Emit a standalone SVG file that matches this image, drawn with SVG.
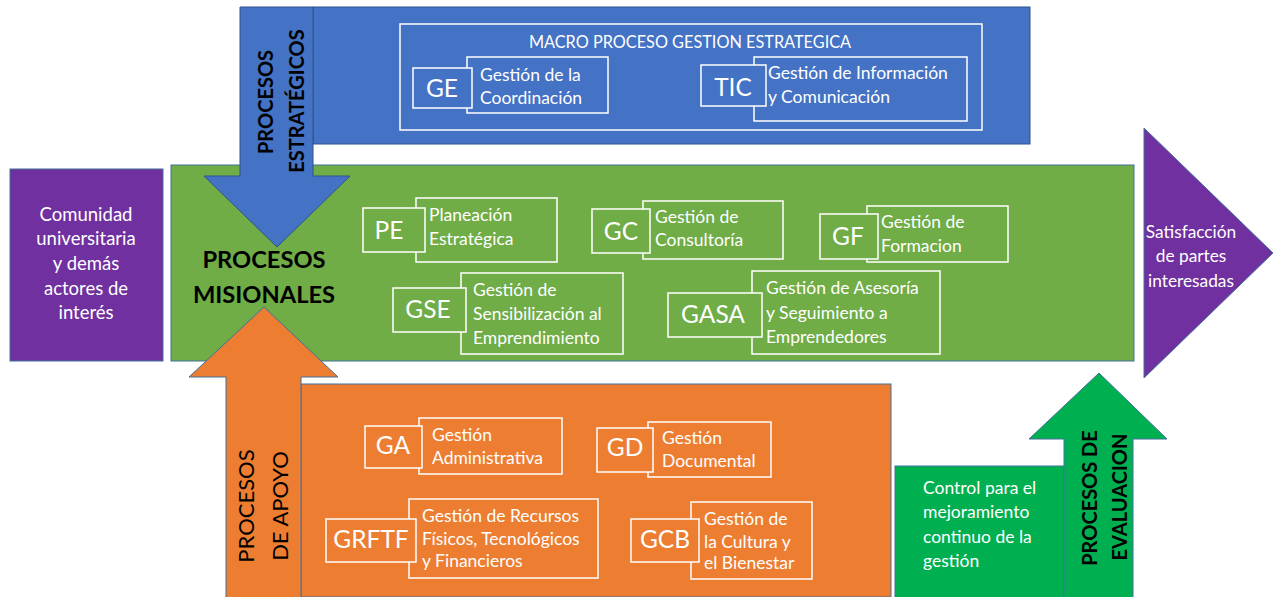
<svg xmlns="http://www.w3.org/2000/svg" width="1277" height="597" viewBox="0 0 1277 597">
<style>
.shape{stroke:#41719C;stroke-width:1}
.blue{fill:#4472C4;stroke:#2F528F;stroke-width:1}
.green{fill:#70AD47}
.orange{fill:#ED7D31}
.purple{fill:#7030A0}
.bgreen{fill:#00B050}
.wb{fill:none;stroke:#FFFFFF;stroke-width:1.5}
.t{font-family:Lato,"Liberation Sans",sans-serif;fill:#FFFFFF;font-size:17.5px}
.ab{font-family:Lato,"Liberation Sans",sans-serif;fill:#FFFFFF;font-size:24.5px;text-anchor:middle}
.big{font-family:Lato,"Liberation Sans",sans-serif;fill:#000000;font-size:23.7px;font-weight:bold;text-anchor:middle}
.vert{font-family:Lato,"Liberation Sans",sans-serif;fill:#000000;font-size:20px;text-anchor:middle}
.c{text-anchor:middle}
</style>
<rect width="1277" height="597" fill="#FFFFFF"/>

<g id="procesos-misionales">
<rect class="shape green" x="171" y="165" width="963" height="196"/>
</g>

<g id="procesos-estrategicos">
<rect class="blue" x="313" y="7" width="717" height="137"/>
<polygon class="blue" points="240,7 313,7 313,176 350,176 277,247 204,176 240,176"/>
<text class="vert" font-weight="bold" transform="translate(273,102) rotate(-90)">PROCESOS</text>
<text class="vert" font-weight="bold" transform="translate(304,101) rotate(-90)">ESTRATÉGICOS</text>
</g>

<g id="macro-gestion-estrategica">
<rect class="wb" x="400" y="24" width="582" height="106"/>
<text class="t c" x="690" y="48" style="font-size:16.3px">MACRO PROCESO GESTION ESTRATEGICA</text>
</g>

<g id="node-ge">
<rect class="wb" x="467" y="57" width="141" height="56"/>
<rect class="blue" style="stroke:#FFFFFF;stroke-width:1.5" x="413" y="68" width="59" height="40"/>
<text class="ab" x="442" y="97">GE</text>
<text class="t" x="480" y="81">Gestión de la</text>
<text class="t" x="480" y="104">Coordinación</text>
</g>

<g id="node-tic">
<rect class="wb" x="754" y="57" width="213" height="64"/>
<rect class="blue" style="stroke:#FFFFFF;stroke-width:1.5" x="701" y="65" width="65" height="41"/>
<text class="ab" x="733" y="96">TIC</text>
<text class="t" x="768" y="79">Gestión de Información</text>
<text class="t" x="768" y="103">y Comunicación</text>
</g>

<g id="comunidad">
<rect class="shape purple" x="10" y="169" width="153" height="192"/>
<text class="t c" x="86" y="221" style="font-size:18.5px">Comunidad</text>
<text class="t c" x="86" y="245" style="font-size:18.5px">universitaria</text>
<text class="t c" x="86" y="270" style="font-size:18.5px">y demás</text>
<text class="t c" x="86" y="295" style="font-size:18.5px">actores de</text>
<text class="t c" x="86" y="319" style="font-size:18.5px">interés</text>
</g>

<g id="procesos-apoyo">
<rect class="shape orange" x="301" y="384" width="590" height="213"/>
<polygon class="shape orange" points="226,598 226,377 189,377 264,307 338,377 301,377 301,598"/>
<text class="vert" style="font-size:22px" transform="translate(254,506) rotate(-90)">PROCESOS</text>
<text class="vert" style="font-size:22px" transform="translate(288,506) rotate(-90)">DE APOYO</text>
</g>

<g id="label-misionales">
<text class="big" x="264" y="268">PROCESOS</text>
<text class="big" x="264" y="303">MISIONALES</text>
</g>

<g id="node-pe">
<rect class="wb" x="416" y="198" width="141" height="64"/>
<rect class="green" style="stroke:#FFFFFF;stroke-width:1.5" x="363" y="208" width="62" height="44"/>
<text class="ab" x="389" y="239">PE</text>
<text class="t" x="429" y="221">Planeación</text>
<text class="t" x="429" y="245">Estratégica</text>
</g>

<g id="node-gc">
<rect class="wb" x="643" y="201" width="140" height="58"/>
<rect class="green" style="stroke:#FFFFFF;stroke-width:1.5" x="592" y="209" width="58" height="44"/>
<text class="ab" x="621" y="240">GC</text>
<text class="t" x="655" y="223">Gestión de</text>
<text class="t" x="655" y="246">Consultoría</text>
</g>

<g id="node-gf">
<rect class="wb" x="867" y="206" width="141" height="56"/>
<rect class="green" style="stroke:#FFFFFF;stroke-width:1.5" x="820" y="214" width="58" height="45"/>
<text class="ab" x="848" y="245">GF</text>
<text class="t" x="881" y="228">Gestión de</text>
<text class="t" x="881" y="252">Formacion</text>
</g>

<g id="node-gse">
<rect class="wb" x="461" y="273" width="162" height="81"/>
<rect class="green" style="stroke:#FFFFFF;stroke-width:1.5" x="393" y="288" width="73" height="44"/>
<text class="ab" x="428" y="318">GSE</text>
<text class="t" x="473" y="296">Gestión de</text>
<text class="t" x="473" y="320">Sensibilización al</text>
<text class="t" x="473" y="344">Emprendimiento</text>
</g>

<g id="node-gasa">
<rect class="wb" x="752" y="271" width="188" height="83"/>
<rect class="green" style="stroke:#FFFFFF;stroke-width:1.5" x="668" y="293" width="94" height="44"/>
<text class="ab" x="713" y="323">GASA</text>
<text class="t" x="766" y="294">Gestión de Asesoría</text>
<text class="t" x="766" y="319">y Seguimiento a</text>
<text class="t" x="766" y="343">Emprendedores</text>
</g>

<g id="node-ga">
<rect class="wb" x="419" y="418" width="143" height="56"/>
<rect class="orange" style="stroke:#FFFFFF;stroke-width:1.5" x="365" y="426" width="57" height="42"/>
<text class="ab" x="393" y="454">GA</text>
<text class="t" x="432" y="441">Gestión</text>
<text class="t" x="432" y="464">Administrativa</text>
</g>

<g id="node-gd">
<rect class="wb" x="648" y="422" width="123" height="55"/>
<rect class="orange" style="stroke:#FFFFFF;stroke-width:1.5" x="597" y="428" width="56" height="44"/>
<text class="ab" x="625" y="456">GD</text>
<text class="t" x="662" y="444">Gestión</text>
<text class="t" x="662" y="467">Documental</text>
</g>

<g id="node-grftf">
<rect class="wb" x="409" y="499" width="189" height="79"/>
<rect class="orange" style="stroke:#FFFFFF;stroke-width:1.5" x="326" y="519" width="90" height="43"/>
<text class="ab" x="371" y="548">GRFTF</text>
<text class="t" x="422" y="522">Gestión de Recursos</text>
<text class="t" x="422" y="545">Físicos, Tecnológicos</text>
<text class="t" x="422" y="567">y Financieros</text>
</g>

<g id="node-gcb">
<rect class="wb" x="691" y="502" width="121" height="77"/>
<rect class="orange" style="stroke:#FFFFFF;stroke-width:1.5" x="631" y="519" width="68" height="43"/>
<text class="ab" x="665" y="548">GCB</text>
<text class="t" x="704" y="525">Gestión de</text>
<text class="t" x="704" y="548">la Cultura y</text>
<text class="t" x="704" y="569">el Bienestar</text>
</g>

<g id="procesos-evaluacion">
<rect class="shape bgreen" x="895" y="466" width="169" height="132"/>
<polygon class="shape bgreen" points="1064,598 1064,439 1029,439 1099,373 1167,439 1133,439 1133,598"/>
<text class="vert" font-weight="bold" transform="translate(1097,498) rotate(-90)">PROCESOS DE</text>
<text class="vert" font-weight="bold" transform="translate(1127,497) rotate(-90)">EVALUACION</text>
<text class="t" x="923" y="494">Control para el</text>
<text class="t" x="923" y="518">mejoramiento</text>
<text class="t" x="923" y="543">continuo de la</text>
<text class="t" x="923" y="567">gestión</text>
</g>

<g id="satisfaccion">
<polygon class="shape purple" points="1144,128 1273,253 1144,378"/>
<text class="t c" x="1191" y="238" style="font-size:17.3px">Satisfacción</text>
<text class="t c" x="1191" y="262" style="font-size:17.3px">de partes</text>
<text class="t c" x="1191" y="287" style="font-size:17.3px">interesadas</text>
</g>

<g id="connectors"></g>
</svg>
